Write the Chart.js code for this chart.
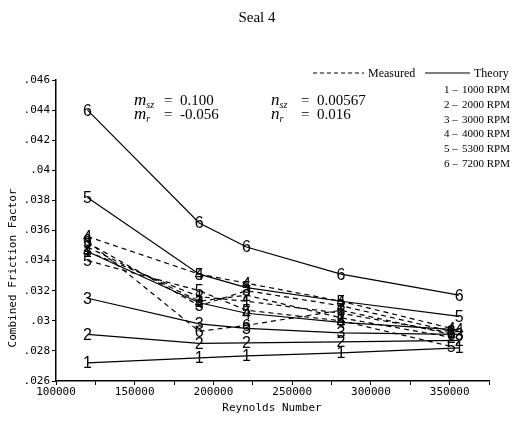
<!DOCTYPE html>
<html>
<head>
<meta charset="utf-8">
<script src="https://cdn.jsdelivr.net/npm/chart.js@4.4.1/dist/chart.umd.min.js"></script>
<style>
  html, body { margin: 0; padding: 0; background: #fff; }
  #wrap { width: 513px; height: 421px; }
</style>
</head>
<body>
<div id="wrap"><canvas id="chart" width="513" height="421"></canvas></div>
<script>
// Reynolds numbers of the test points
const reTheory   = [120000, 191000, 221000, 281000, 356000];
const reMeasured = [120000, 191000, 221000, 281000, 351000];

// curve tags and shaft speeds
const tags = ['1', '2', '3', '4', '5', '6'];
const rpms = ['1000 RPM', '2000 RPM', '3000 RPM', '4000 RPM', '5300 RPM', '7200 RPM'];

// theory friction factor, one row per speed
const theory1 = [0.0272, 0.02753, 0.02767, 0.02787, 0.0282];
const theory2 = [0.0291, 0.0285, 0.02853, 0.0286, 0.0287];
const theory3 = [0.0315, 0.0298, 0.0295, 0.0292, 0.0291];
const theory4 = [0.0346, 0.0312, 0.0305, 0.0299, 0.0294];
const theory5 = [0.0382, 0.0331, 0.0322, 0.0313, 0.0303];
const theory6 = [0.0440, 0.0365, 0.0349, 0.0331, 0.0317];

// measured friction factor
const measured1 = [0.0346, 0.0316, 0.0313, 0.0305, 0.0292];
const measured2 = [0.0349, 0.0313, 0.0317, 0.0302, 0.0289];
const measured3 = [0.0352, 0.0310, 0.0320, 0.0310, 0.0293];
const measured4 = [0.0356, 0.0331, 0.0325, 0.0313, 0.0295];
const measured5 = [0.0340, 0.0320, 0.0307, 0.0300, 0.0283];
const measured6 = [0.0353, 0.0293, 0.0297, 0.0307, 0.0291];

const theoryRows = [theory1, theory2, theory3, theory4, theory5, theory6];
const measuredRows = [measured1, measured2, measured3, measured4, measured5, measured6];

const xLabelEvery = 50000;

const pts = (xs, ys) => ys.map((y, i) => ({ x: xs[i], y }));

const datasets = [];
measuredRows.forEach((row, i) => datasets.push({
  tag: tags[i], data: pts(reMeasured, row),
  borderColor: '#000', borderWidth: 1.2, borderDash: [5, 4],
  pointRadius: 0, showLine: true, fill: false
}));
theoryRows.forEach((row, i) => datasets.push({
  tag: tags[i], data: pts(reTheory, row),
  borderColor: '#000', borderWidth: 1.2,
  pointRadius: 0, showLine: true, fill: false
}));

// each point is marked by its curve number
const digitMarks = {
  id: 'digitMarks',
  afterDatasetsDraw(chart) {
    const ctx = chart.ctx;
    ctx.save();
    ctx.fillStyle = '#000';
    ctx.font = '16px "Liberation Sans"';
    ctx.textAlign = 'center';
    ctx.textBaseline = 'middle';
    chart.data.datasets.forEach((ds, i) => {
      chart.getDatasetMeta(i).data.forEach(el => ctx.fillText(ds.tag, el.x, el.y + 1));
    });
    ctx.restore();
  }
};

// title, axis titles, coefficient block and key
const notes = {
  id: 'notes',
  afterDraw(chart) {
    const ctx = chart.ctx;
    ctx.save();
    ctx.fillStyle = '#000';
    ctx.strokeStyle = '#000';
    ctx.textBaseline = 'alphabetic';

    ctx.font = '15px "Liberation Serif"';
    ctx.textAlign = 'center';
    ctx.fillText('Seal 4', 257, 22);

    ctx.font = '11px "DejaVu Sans Mono"';
    ctx.fillText('Reynolds Number', 272, 411);

    ctx.save();
    ctx.translate(16, 268);
    ctx.rotate(-Math.PI / 2);
    ctx.fillText('Combined Friction Factor', 0, 0);
    ctx.restore();

    ctx.textAlign = 'left';
    const coef = (x, y, sym, sub, val) => {
      ctx.font = 'italic 17px "Liberation Serif"';
      ctx.fillText(sym, x, y);
      const w = ctx.measureText(sym).width;
      ctx.font = 'italic 10px "Liberation Serif"';
      ctx.fillText(sub, x + w, y + 3);
      ctx.font = '15px "Liberation Serif"';
      ctx.fillText('=', x + 30, y);
      ctx.fillText(val, x + 46, y);
    };
    coef(134, 105, 'm', 'sz', '0.100');
    coef(134, 119, 'm', 'r', '-0.056');
    coef(271, 105, 'n', 'sz', '0.00567');
    coef(271, 119, 'n', 'r', '0.016');

    // key
    ctx.font = '12px "Liberation Serif"';
    ctx.lineWidth = 1;
    ctx.setLineDash([4, 3]);
    ctx.beginPath(); ctx.moveTo(313, 73); ctx.lineTo(364, 73); ctx.stroke();
    ctx.setLineDash([]);
    ctx.fillText('Measured', 368, 77);
    ctx.beginPath(); ctx.moveTo(425, 73); ctx.lineTo(470, 73); ctx.stroke();
    ctx.fillText('Theory', 474, 77);
    ctx.font = '11px "Liberation Serif"';
    tags.forEach((t, i) => {
      const y = 93 + i * 14.8;
      ctx.textAlign = 'left';
      ctx.fillText(t + ' \u2013', 444, y);
      ctx.textAlign = 'right';
      ctx.fillText(rpms[i], 510, y);
    });
    ctx.restore();
  }
};

const tickFont = { family: 'DejaVu Sans Mono', size: 11 };

new Chart(document.getElementById('chart').getContext('2d'), {
  type: 'scatter',
  data: { datasets },
  options: {
    responsive: false,
    animation: false,
    layout: { padding: { top: 80, right: 24, left: 0, bottom: 0 } },
    plugins: { legend: { display: false }, tooltip: { enabled: false } },
    scales: {
      x: {
        type: 'linear', min: 100000, max: 375000,
        afterFit: s => { s.height = 40; },
        border: { color: '#000', width: 1.5 },
        grid: { drawOnChartArea: false, color: '#000', tickLength: 4 },
        ticks: {
          stepSize: 25000, color: '#000', font: tickFont, maxRotation: 0, padding: 1,
          autoSkip: false,
          callback: v => (v % xLabelEvery === 0 && v < 375000) ? String(v) : ''
        }
      },
      y: {
        type: 'linear', min: 0.026, max: 0.046,
        afterFit: s => { s.width = 56; },
        border: { color: '#000', width: 1.5 },
        grid: { drawOnChartArea: false, color: '#000', tickLength: 4 },
        ticks: {
          stepSize: 0.002, color: '#000', font: tickFont, padding: 2, autoSkip: false,
          callback: v => String(+v.toFixed(3)).replace(/^0/, '')
        }
      }
    }
  },
  plugins: [digitMarks, notes]
});
</script>
</body>
</html>
